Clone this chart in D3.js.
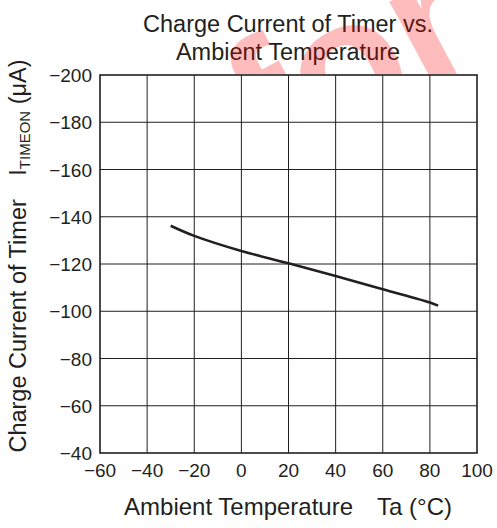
<!DOCTYPE html>
<html><head><meta charset="utf-8">
<script src="https://cdn.jsdelivr.net/npm/d3@7"></script>
<style>body{margin:0;background:#fff}svg{display:block}text{font-family:"Liberation Sans",Arial,sans-serif;fill:#231f20}</style>
</head><body>
<script>
const xTicks = [-60,-40,-20,0,20,40,60,80,100];
const yTicks = [-200,-180,-160,-140,-120,-100,-80,-60,-40];
const temps = [-30,-20,0,20,40,60,80,83.5];
const currents = [-136.2,-131.9,-125.5,-120.3,-114.9,-109.3,-103.7,-102.4];

const W=497,H=528, L=100,R=477,T=75,B=453;
const svg=d3.select("body").append("svg").attr("width",W).attr("height",H);
const x=d3.scaleLinear().domain([-60,100]).range([L,R]);
const y=d3.scaleLinear().domain([-200,-40]).range([T,B]);
const fmt=d=>d<0?"\u2212"+(-d):String(d);

// titles
svg.append("text").attr("x",288).attr("y",32).attr("text-anchor","middle").attr("font-size",23.5).text("Charge Current of Timer vs.");
svg.append("text").attr("x",288).attr("y",60).attr("text-anchor","middle").attr("font-size",23.5).text("Ambient Temperature");

// watermark
svg.append("clipPath").attr("id","wmclip").append("rect").attr("x",0).attr("y",0).attr("width",W).attr("height",T-1);
svg.append("g").attr("clip-path","url(#wmclip)")
  .append("text").attr("transform","translate(270,176) rotate(-28)")
  .attr("font-size",185).attr("font-weight","bold").style("fill","#ff0000").attr("opacity",0.26)
  .text("for");

// grid
svg.append("g").selectAll("line").data(xTicks.slice(1,-1)).join("line")
  .attr("x1",d=>x(d)).attr("x2",d=>x(d)).attr("y1",T).attr("y2",B)
  .attr("stroke","#231f20").attr("stroke-width",1);
svg.append("g").selectAll("line").data(yTicks.slice(1,-1)).join("line")
  .attr("y1",d=>y(d)).attr("y2",d=>y(d)).attr("x1",L).attr("x2",R)
  .attr("stroke","#231f20").attr("stroke-width",1);
svg.append("rect").attr("x",L).attr("y",T).attr("width",R-L).attr("height",B-T)
  .attr("fill","none").attr("stroke","#231f20").attr("stroke-width",1.6);

// tick labels
svg.append("g").selectAll("text").data(xTicks).join("text")
  .attr("x",d=>x(d)).attr("y",B+24).attr("text-anchor","middle").attr("font-size",19)
  .text(fmt);
svg.append("g").selectAll("text").data(yTicks).join("text")
  .attr("x",L-8).attr("y",d=>y(d)+7).attr("text-anchor","end").attr("font-size",19)
  .text(fmt);

// line
svg.append("path").datum(temps.map((t,i)=>[t,currents[i]]))
  .attr("d",d3.line().x(d=>x(d[0])).y(d=>y(d[1])).curve(d3.curveCatmullRom))
  .attr("fill","none").attr("stroke","#231f20").attr("stroke-width",2.6);

// axis titles
svg.append("text").attr("x",288).attr("y",515).attr("text-anchor","middle").attr("font-size",24).text("Ambient Temperature\u2003Ta (\u00B0C)");
const yl=svg.append("text").attr("transform","translate(26,256) rotate(-90)").attr("text-anchor","middle").attr("font-size",23.5);
yl.append("tspan").text("Charge Current of Timer\u2003I");
yl.append("tspan").attr("font-size",15).attr("dy",4).text("TIMEON");
yl.append("tspan").attr("dy",-4).text(" (\u03BCA)");
</script>
</body></html>
